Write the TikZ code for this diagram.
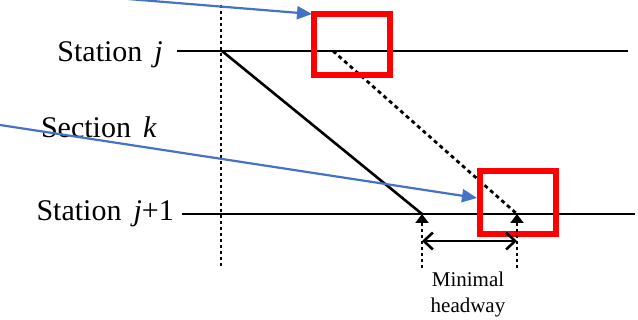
\documentclass[tikz,border=0pt]{standalone}
\usepackage{fontspec}
\setmainfont{Liberation Serif}
\usetikzlibrary{arrows.meta}
\begin{document}
\begin{tikzpicture}[x=1pt,y=-1pt,
  track/.style={line width=2.6pt},
  vdots/.style={line width=2.6pt,dash pattern=on 3pt off 3pt},
  ddots/.style={line width=2.8pt,dash pattern=on 4pt off 3.5pt},
  redbox/.style={draw=red,line width=5.5pt},
  bluearrow/.style={draw=blueC,line width=2.2pt,-{Triangle[length=15pt,width=13pt]}},
  lbl/.style={font=\fontsize{30}{36}\selectfont,inner sep=0pt},
  small/.style={font=\fontsize{21}{26}\selectfont,inner sep=0pt,align=center}]
\definecolor{blueC}{RGB}{68,114,196}
\useasboundingbox (0,0) rectangle (638,320);
% labels
\node[lbl,anchor=base east] (lj) at (163,62) {Station\hspace{0.4em}\textit{j}};
\node[lbl,anchor=base east] (lk) at (157,138) {Section\hspace{0.4em}\textit{k}};
\node[lbl,anchor=base east] (lj1) at (174,221) {Station\hspace{0.4em}\textit{j}+1};
% coordinates
\coordinate (sjA) at (177,51);
\coordinate (sjB) at (628,51);
\coordinate (sj1A) at (182,214);
\coordinate (sj1B) at (635,214);
\coordinate (vT) at (221,5);
\coordinate (vB) at (221,268);
\coordinate (d1A) at (222,51);
\coordinate (d1B) at (422,214);
\coordinate (d2A) at (333,51);
\coordinate (d2B) at (517,214);
\coordinate (h1B) at (422,268);
\coordinate (h2B) at (517,268);
\coordinate (hL) at (422,241);
\coordinate (hR) at (517,241);
\coordinate (b1A) at (128,-1);
\coordinate (b1B) at (312,14);
\coordinate (b2A) at (0,125);
\coordinate (b2B) at (477,198);
% tracks
\draw[track] (sjA) -- (sjB);
\draw[track] (sj1A) -- (sj1B);
\draw[vdots] (vT) -- (vB);
\draw[track] (d1A) -- (d1B);
\draw[ddots] (d2A) -- (d2B);
% red boxes
\draw[redbox] (314,14) rectangle (390,75);
\draw[redbox] (480,171) rectangle (556,234);
% headway
\draw[vdots,-{Triangle[length=9pt,width=13pt]}] (h1B) -- (d1B);
\draw[vdots,-{Triangle[length=9pt,width=13pt]}] (h2B) -- (d2B);
\draw[line width=2.6pt,{Straight Barb[length=9pt,width=17pt]}-{Straight Barb[length=9pt,width=17pt]}] (hL) -- (hR);
\node[small] (mh) at (468,294) {Minimal\\headway};
% blue arrows
\draw[bluearrow] (b1A) -- (b1B);
\draw[bluearrow] (b2A) -- (b2B);
\end{tikzpicture}
\end{document}
